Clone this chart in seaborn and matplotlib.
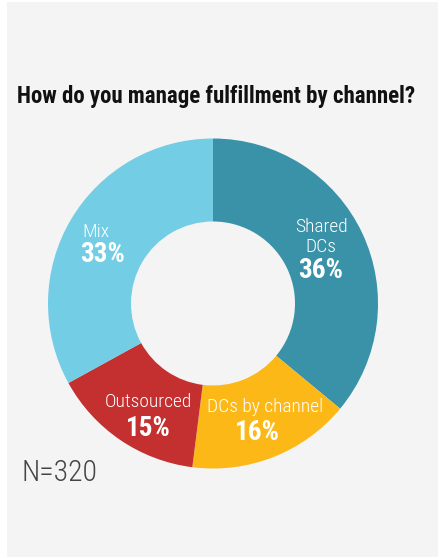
import matplotlib
matplotlib.use("Agg")
import matplotlib.pyplot as plt
from matplotlib import font_manager
from matplotlib.patches import Rectangle
import seaborn as sns

# Survey answers
categories = ["Shared\nDCs", "DCs by channel", "Outsourced", "Mix"]
shares = [36, 16, 15, 33]
colors = ["#3a92a9", "#fcb817", "#c42f30", "#72cde5"]
title = "How do you manage fulfillment by channel?"
sample_note = "N=320"

sns.set_theme(style="white")

installed = {f.name for f in font_manager.fontManager.ttflist}
narrow = next((f for f in ["Liberation Sans Narrow", "Roboto Condensed", "Open Sans Condensed",
                           "DejaVu Sans Condensed"] if f in installed), "Liberation Sans")
plt.rcParams["font.family"] = [narrow, "DejaVu Sans"]

W, H = 440, 558
fig = plt.figure(figsize=(W / 100, H / 100), dpi=100, facecolor="white")

# grey card behind everything
fig.patches.append(Rectangle((7 / W, 1 / H), (438 - 7) / W, (556 - 1) / H,
                             transform=fig.transFigure, facecolor="#f4f4f4",
                             edgecolor="none", zorder=-5))

cx, cy = 213, 303.5          # donut centre (pixels from top-left)
half = 175
ax = fig.add_axes([(cx - half) / W, (H - cy - half) / H, 2 * half / W, 2 * half / H])
ax.patch.set_alpha(0)
ax.set_zorder(2)

outer, inner = 165, 82
ax.pie(shares, colors=sns.color_palette(colors), startangle=90, counterclock=False,
       radius=outer, wedgeprops=dict(width=outer - inner, linewidth=0))
# pie() resets the limits, so fix them afterwards
ax.set_xlim(-half, half)
ax.set_ylim(-half, half)
ax.set_aspect("equal")
ax.axis("off")


def put(px, py, s, size, weight="light", ha="center"):
    ax.text(px - cx, cy - py, s, ha=ha, va="center", color="white",
            fontsize=size, fontweight=weight, linespacing=1.1)


# segment labels: name then bold percentage
put(321, 237, categories[0], 14)
put(321, 270, f"{shares[0]}%", 19.5, "bold")
put(265, 407, categories[1], 14)
put(257, 433, f"{shares[1]}%", 19.5, "bold")
put(148, 402, categories[2], 14)
put(148, 428, f"{shares[2]}%", 19.5, "bold")
put(82, 232, categories[3], 14, ha="left")
put(80, 254, f"{shares[3]}%", 19.5, "bold", ha="left")

fig.text(17 / W, 1 - 96 / H, title, ha="left", va="center", fontsize=16.5,
         fontweight="bold", color="#111111")
fig.text(21 / W, 1 - 473 / H, sample_note, ha="left", va="center", fontsize=21.4,
         fontweight="light", color="#444444")

fig.savefig("out.png", dpi=100, facecolor=fig.get_facecolor())
